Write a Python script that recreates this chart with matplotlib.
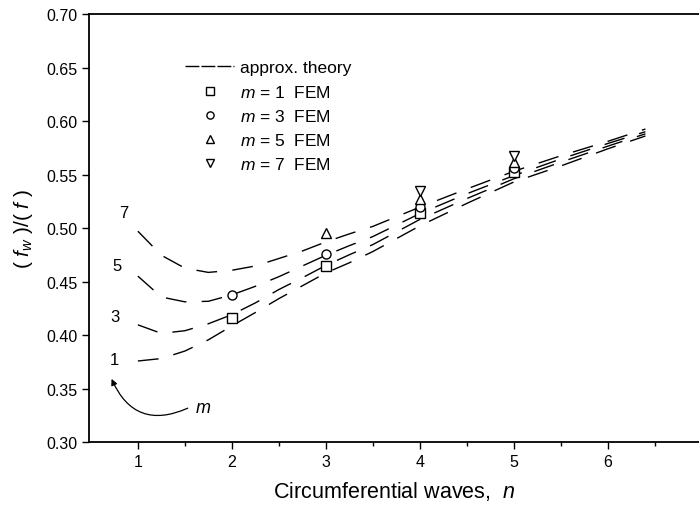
import numpy as np
import matplotlib.pyplot as plt
from matplotlib.lines import Line2D

plt.rcParams['font.family'] = ['Liberation Sans', 'DejaVu Sans']
plt.rcParams['mathtext.fontset'] = 'custom'
plt.rcParams['mathtext.rm'] = 'Liberation Sans'
plt.rcParams['mathtext.it'] = 'Liberation Sans:italic'

# approx. theory curves
n_theory = [1.0, 1.25, 1.5, 1.75, 2.0, 2.25, 2.5, 2.75, 3.0, 3.25, 3.5,
            4.0, 4.5, 5.0, 5.5, 6.0, 6.4]
theory_m1 = [0.3757, 0.378, 0.385, 0.3955, 0.4085, 0.421, 0.434, 0.446, 0.458,
             0.4675, 0.478, 0.502, 0.523, 0.543, 0.558, 0.574, 0.586]
theory_m3 = [0.4095, 0.4015, 0.404, 0.4105, 0.419, 0.430, 0.4425, 0.4535, 0.465,
             0.475, 0.4845, 0.508, 0.5275, 0.546, 0.5615, 0.5765, 0.588]
theory_m5 = [0.455, 0.4355, 0.431, 0.4315, 0.4375, 0.4455, 0.4545, 0.4645, 0.4745,
             0.4835, 0.492, 0.5135, 0.532, 0.549, 0.5645, 0.579, 0.590]
theory_m7 = [0.497, 0.4745, 0.4625, 0.4585, 0.4605, 0.4645, 0.4715, 0.4785, 0.487,
             0.4945, 0.5015, 0.5195, 0.5365, 0.553, 0.5675, 0.581, 0.5925]

# FEM results
fem_m1_n = [2, 3, 4, 5]
fem_m1 = [0.4155, 0.4645, 0.514, 0.5527]
fem_m3_n = [2, 3, 4, 5]
fem_m3 = [0.437, 0.4754, 0.520, 0.5565]
fem_m5_n = [3, 4, 5]
fem_m5 = [0.4955, 0.527, 0.5614]
fem_m7_n = [4, 5]
fem_m7 = [0.535, 0.5677]

curve_labels = ['1', '3', '5', '7']
label_pos = [(0.755, 0.377), (0.755, 0.4176), (0.78, 0.4645), (0.85, 0.5145)]

fig = plt.figure(figsize=(6.99, 5.06), dpi=100)
ax = fig.add_axes([89/699, 63/506, 1 - 89/699, (443 - 15)/506])

dash = (15, 11)
for y in [theory_m1, theory_m3, theory_m5, theory_m7]:
    ax.plot(n_theory, y, color='black', lw=1.0, dashes=dash)

mk = dict(color='black', mfc='white', mew=1.0, ms=6.5, ls='none')
ax.plot(fem_m1_n, fem_m1, marker='s', **mk)
ax.plot(fem_m3_n, fem_m3, marker='o', **mk)
ax.plot(fem_m5_n, fem_m5, marker='^', **mk)
ax.plot(fem_m7_n, fem_m7, marker='v', **mk)

for lab, (x, y) in zip(curve_labels, label_pos):
    ax.text(x, y, lab, fontsize=12, ha='center', va='center')

ax.annotate('', xy=(0.72, 0.359), xytext=(1.53, 0.3316),
            arrowprops=dict(arrowstyle='-|>', color='black', lw=0.9,
                            connectionstyle='arc3,rad=-0.5',
                            mutation_scale=9, shrinkA=0, shrinkB=0))
ax.text(1.69, 0.3325, '$m$', fontsize=13, ha='center', va='center')

handles = [
    Line2D([], [], color='black', lw=1.0, dashes=(10, 1.5)),
    Line2D([], [], marker='s', **mk),
    Line2D([], [], marker='o', **mk),
    Line2D([], [], marker='^', **mk),
    Line2D([], [], marker='v', **mk),
]
names = ['approx. theory', '$m$ = 1  FEM', '$m$ = 3  FEM',
         '$m$ = 5  FEM', '$m$ = 7  FEM']
ax.legend(handles, names, loc='upper left', bbox_to_anchor=(0.143, 0.912),
          frameon=False, fontsize=12.5, handlelength=2.85, handletextpad=0.3,
          labelspacing=0.47, borderpad=0, markerscale=0.8)

ax.set_xlim(0.48, 6.97)
ax.set_ylim(0.30, 0.70)
ax.set_xticks([1, 2, 3, 4, 5, 6])
ax.set_xticks(np.arange(1.5, 7.0, 1.0), minor=True)
ax.set_yticks(np.arange(0.30, 0.701, 0.05))
ax.yaxis.set_major_formatter(plt.FormatStrFormatter('%.2f'))
ax.tick_params(direction='out', length=5, width=1, labelsize=11.5)
ax.tick_params(which='minor', direction='out', length=3, width=1)
ax.spines['right'].set_visible(False)
for s in ['left', 'bottom', 'top']:
    ax.spines[s].set_linewidth(1.3)

ax.set_xlabel('Circumferential waves,  $n$', fontsize=15.5, labelpad=7)
ax.set_ylabel(r'$($ $f_w$ $)/($ $f$ $)$', fontsize=15, labelpad=8)

fig.savefig('out.png', dpi=100)
